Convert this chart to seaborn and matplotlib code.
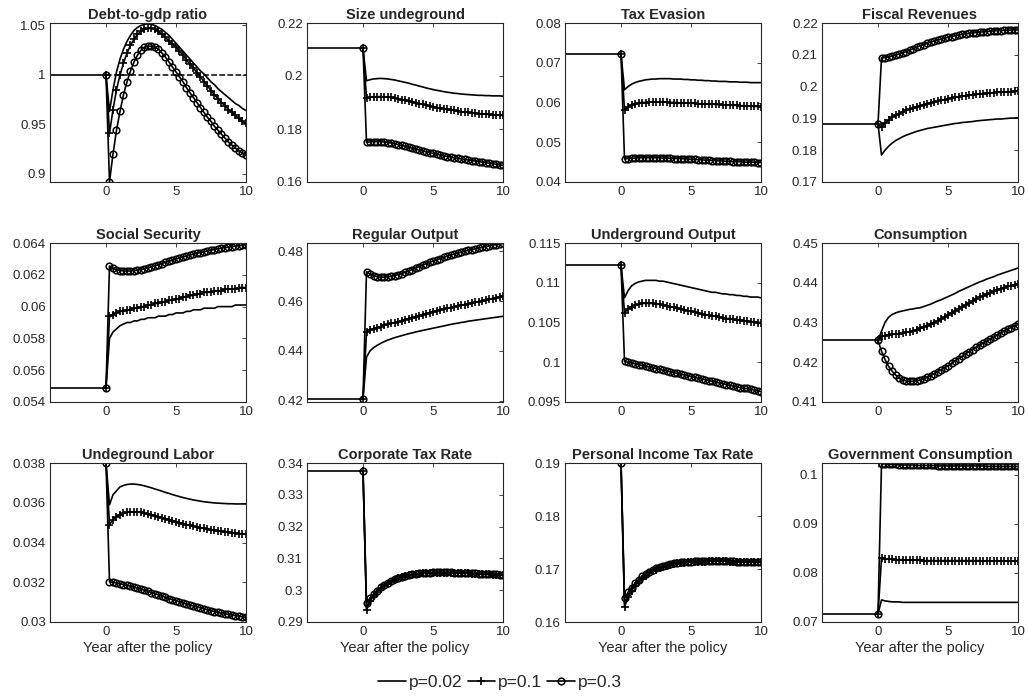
import numpy as np
import matplotlib
matplotlib.use("Agg")
import matplotlib.pyplot as plt
import seaborn as sns
from matplotlib.ticker import FuncFormatter
from matplotlib.lines import Line2D

sns.set_style("white")
plt.rcParams['font.family'] = ['Liberation Sans', 'DejaVu Sans']

# ---------------- data (quarterly, t = 0, 0.25, ..., 10) ----------------
titles = ["Debt-to-gdp ratio", "Size undeground", "Tax Evasion", "Fiscal Revenues",
          "Social Security", "Regular Output", "Underground Output", "Consumption",
          "Undeground Labor", "Corporate Tax Rate", "Personal Income Tax Rate",
          "Government Consumption"]
series_labels = ["p=0.02", "p=0.1", "p=0.3"]
x_label = "Year after the policy"
x_ticks = [0, 5, 10]
pre_start = -4

# steady states
ss_debt = 1.0
ss_size = 0.2105
ss_evasion = 0.0723
ss_revenue = 0.1883
ss_socsec = 0.0549
ss_regout = 0.4208
ss_undout = 0.1122
ss_cons = 0.4255
ss_undlab = 0.0380
ss_corp = 0.3375
ss_pit = 0.1900
ss_gov = 0.0716

debt_p002 = [0.963, 0.985, 1.003, 1.016, 1.026, 1.034, 1.040, 1.045, 1.048, 1.050, 1.051, 1.052,
             1.051, 1.050, 1.048, 1.046, 1.043, 1.040, 1.036, 1.032, 1.028, 1.024, 1.020, 1.016,
             1.012, 1.008, 1.004, 1.001, 0.997, 0.993, 0.990, 0.986, 0.983, 0.980, 0.977, 0.974,
             0.971, 0.969, 0.966, 0.964]
debt_p01 = [0.941, 0.965, 0.985, 1.000, 1.012, 1.022, 1.030, 1.036, 1.041, 1.044, 1.046, 1.047,
            1.047, 1.046, 1.044, 1.041, 1.038, 1.034, 1.031, 1.028, 1.024, 1.020, 1.015, 1.011,
            1.007, 1.002, 0.998, 0.993, 0.989, 0.984, 0.980, 0.976, 0.972, 0.969, 0.965, 0.962,
            0.959, 0.956, 0.953, 0.951]
debt_p03 = [0.892, 0.920, 0.944, 0.963, 0.980, 0.993, 1.004, 1.013, 1.020, 1.025, 1.028, 1.029,
            1.029, 1.028, 1.026, 1.022, 1.018, 1.013, 1.008, 1.003, 0.998, 0.993, 0.987, 0.982,
            0.977, 0.972, 0.967, 0.962, 0.957, 0.953, 0.948, 0.944, 0.940, 0.936, 0.932, 0.929,
            0.926, 0.923, 0.921, 0.919]

size_p002 = [0.1982, 0.1986, 0.1989, 0.1990, 0.1991, 0.1990, 0.1989, 0.1987, 0.1985, 0.1982,
             0.1979, 0.1976, 0.1973, 0.1969, 0.1966, 0.1962, 0.1959, 0.1955, 0.1952, 0.1949,
             0.1946, 0.1944, 0.1941, 0.1939, 0.1937, 0.1935, 0.1934, 0.1932, 0.1931, 0.1930,
             0.1929, 0.1928, 0.1927, 0.1927, 0.1926, 0.1926, 0.1925, 0.1925, 0.1925, 0.1924]
size_p01 = [0.1918, 0.1920, 0.1921, 0.1922, 0.1922, 0.1922, 0.1921, 0.1919, 0.1917, 0.1914,
            0.1911, 0.1908, 0.1905, 0.1902, 0.1899, 0.1896, 0.1893, 0.1890, 0.1887, 0.1884,
            0.1881, 0.1879, 0.1876, 0.1874, 0.1872, 0.1870, 0.1868, 0.1866, 0.1864, 0.1863,
            0.1861, 0.1860, 0.1858, 0.1857, 0.1856, 0.1855, 0.1854, 0.1853, 0.1852, 0.1851]
size_p03 = [0.1750, 0.1751, 0.1752, 0.1752, 0.1752, 0.1751, 0.1749, 0.1747, 0.1744, 0.1741,
            0.1738, 0.1735, 0.1731, 0.1728, 0.1724, 0.1721, 0.1717, 0.1714, 0.1711, 0.1708,
            0.1705, 0.1702, 0.1699, 0.1696, 0.1694, 0.1691, 0.1689, 0.1687, 0.1685, 0.1683,
            0.1681, 0.1679, 0.1677, 0.1675, 0.1673, 0.1671, 0.1669, 0.1667, 0.1665, 0.1663]

evasion_p002 = [0.0632, 0.0640, 0.0646, 0.0650, 0.0653, 0.0655, 0.0657, 0.0658, 0.0659, 0.0659,
                0.0660, 0.0660, 0.0660, 0.0660, 0.0659, 0.0659, 0.0659, 0.0658, 0.0658, 0.0657,
                0.0657, 0.0656, 0.0656, 0.0655, 0.0655, 0.0654, 0.0654, 0.0653, 0.0653, 0.0653,
                0.0652, 0.0652, 0.0652, 0.0651, 0.0651, 0.0651, 0.0650, 0.0650, 0.0650, 0.0650]
evasion_p01 = [0.0581, 0.0589, 0.0594, 0.0597, 0.0599, 0.0600, 0.0600, 0.0601, 0.0601, 0.0601,
               0.0601, 0.0601, 0.0601, 0.0600, 0.0600, 0.0600, 0.0599, 0.0599, 0.0599, 0.0598,
               0.0598, 0.0597, 0.0597, 0.0596, 0.0596, 0.0596, 0.0595, 0.0595, 0.0594, 0.0594,
               0.0594, 0.0593, 0.0593, 0.0592, 0.0592, 0.0591, 0.0591, 0.0590, 0.0590, 0.0589]
evasion_p03 = [0.0458, 0.0459, 0.0460, 0.0460, 0.0461, 0.0461, 0.0461, 0.0461, 0.0461, 0.0461,
               0.0461, 0.0460, 0.0460, 0.0460, 0.0459, 0.0459, 0.0459, 0.0458, 0.0458, 0.0457,
               0.0457, 0.0456, 0.0456, 0.0455, 0.0455, 0.0454, 0.0454, 0.0453, 0.0453, 0.0452,
               0.0452, 0.0451, 0.0451, 0.0451, 0.0450, 0.0450, 0.0450, 0.0450, 0.0449, 0.0449]

revenue_p002 = [0.1785, 0.1800, 0.1812, 0.1822, 0.1830, 0.1836, 0.1842, 0.1847, 0.1851, 0.1855,
                0.1859, 0.1862, 0.1865, 0.1868, 0.1870, 0.1872, 0.1874, 0.1876, 0.1878, 0.1880,
                0.1882, 0.1884, 0.1885, 0.1887, 0.1888, 0.1889, 0.1890, 0.1892, 0.1893, 0.1894,
                0.1895, 0.1896, 0.1897, 0.1898, 0.1898, 0.1899, 0.1900, 0.1901, 0.1901, 0.1902]
revenue_p01 = [0.1872, 0.1885, 0.1895, 0.1903, 0.1910, 0.1915, 0.1920, 0.1925, 0.1929, 0.1933,
               0.1937, 0.1940, 0.1943, 0.1946, 0.1949, 0.1952, 0.1954, 0.1957, 0.1959, 0.1962,
               0.1964, 0.1966, 0.1968, 0.1970, 0.1971, 0.1973, 0.1974, 0.1976, 0.1977, 0.1978,
               0.1979, 0.1980, 0.1981, 0.1982, 0.1982, 0.1983, 0.1984, 0.1984, 0.1985, 0.1985]
revenue_p03 = [0.2090, 0.2091, 0.2093, 0.2096, 0.2099, 0.2102, 0.2106, 0.2110, 0.2115, 0.2119,
               0.2124, 0.2128, 0.2132, 0.2136, 0.2140, 0.2143, 0.2146, 0.2149, 0.2152, 0.2155,
               0.2157, 0.2160, 0.2162, 0.2164, 0.2166, 0.2167, 0.2169, 0.2170, 0.2171, 0.2172,
               0.2173, 0.2174, 0.2175, 0.2176, 0.2176, 0.2177, 0.2177, 0.2178, 0.2178, 0.2178]

socsec_p002 = [0.0580, 0.0584, 0.0586, 0.0588, 0.0589, 0.0590, 0.0590, 0.0591, 0.0591, 0.0592,
               0.0592, 0.0593, 0.0593, 0.0593, 0.0594, 0.0594, 0.0594, 0.0595, 0.0595, 0.0596,
               0.0596, 0.0596, 0.0597, 0.0597, 0.0598, 0.0598, 0.0598, 0.0599, 0.0599, 0.0599,
               0.0599, 0.0600, 0.0600, 0.0600, 0.0600, 0.0600, 0.0601, 0.0601, 0.0601, 0.0601]
socsec_p01 = [0.0594, 0.0595, 0.0596, 0.0597, 0.0597, 0.0598, 0.0598, 0.0599, 0.0599, 0.0600,
              0.0600, 0.0601, 0.0601, 0.0602, 0.0602, 0.0603, 0.0603, 0.0604, 0.0604, 0.0605,
              0.0605, 0.0606, 0.0606, 0.0607, 0.0607, 0.0608, 0.0608, 0.0609, 0.0609, 0.0609,
              0.0610, 0.0610, 0.0610, 0.0611, 0.0611, 0.0611, 0.0611, 0.0612, 0.0612, 0.0612]
socsec_p03 = [0.06255, 0.06240, 0.06232, 0.06227, 0.06224, 0.06223, 0.06224, 0.06226, 0.06229,
              0.06233, 0.06238, 0.06244, 0.06250, 0.06257, 0.06264, 0.06271, 0.06278, 0.06285,
              0.06292, 0.06299, 0.06306, 0.06312, 0.06318, 0.06324, 0.06330, 0.06335, 0.06340,
              0.06345, 0.06350, 0.06355, 0.06359, 0.06363, 0.06367, 0.06371, 0.06374, 0.06377,
              0.06380, 0.06383, 0.06386, 0.06389]

regout_p002 = [0.4375, 0.4400, 0.4413, 0.4422, 0.4430, 0.4437, 0.4443, 0.4448, 0.4453, 0.4457,
               0.4461, 0.4465, 0.4469, 0.4472, 0.4476, 0.4479, 0.4482, 0.4485, 0.4488, 0.4491,
               0.4494, 0.4497, 0.4500, 0.4503, 0.4506, 0.4509, 0.4511, 0.4514, 0.4516, 0.4519,
               0.4521, 0.4523, 0.4525, 0.4527, 0.4529, 0.4531, 0.4533, 0.4535, 0.4537, 0.4539]
regout_p01 = [0.4475, 0.4483, 0.4489, 0.4493, 0.4497, 0.4502, 0.4506, 0.4510, 0.4514, 0.4518,
              0.4522, 0.4526, 0.4530, 0.4534, 0.4538, 0.4542, 0.4546, 0.4550, 0.4554, 0.4558,
              0.4562, 0.4565, 0.4568, 0.4571, 0.4574, 0.4577, 0.4580, 0.4583, 0.4586, 0.4589,
              0.4592, 0.4595, 0.4598, 0.4601, 0.4604, 0.4607, 0.4610, 0.4613, 0.4616, 0.4620]
regout_p03 = [0.4718, 0.4708, 0.4702, 0.4698, 0.4696, 0.4696, 0.4697, 0.4699, 0.4702, 0.4706,
              0.4710, 0.4715, 0.4720, 0.4726, 0.4732, 0.4738, 0.4744, 0.4750, 0.4755, 0.4760,
              0.4765, 0.4770, 0.4775, 0.4780, 0.4784, 0.4788, 0.4792, 0.4796, 0.4800, 0.4803,
              0.4806, 0.4809, 0.4812, 0.4815, 0.4818, 0.4821, 0.4824, 0.4826, 0.4828, 0.4831]

undout_p002 = [0.1081, 0.1090, 0.1096, 0.1099, 0.1101, 0.1102, 0.1103, 0.1103, 0.1103, 0.1103,
               0.1102, 0.1102, 0.1101, 0.1100, 0.1099, 0.1098, 0.1097, 0.1096, 0.1095, 0.1094,
               0.1093, 0.1092, 0.1091, 0.1090, 0.1089, 0.1088, 0.1088, 0.1087, 0.1086, 0.1086,
               0.1085, 0.1085, 0.1084, 0.1084, 0.1083, 0.1083, 0.1082, 0.1082, 0.1082, 0.1081]
undout_p01 = [0.1062, 0.1067, 0.1070, 0.1072, 0.1073, 0.1074, 0.1074, 0.1074, 0.1074, 0.1073,
              0.1073, 0.1072, 0.1071, 0.1070, 0.1069, 0.1068, 0.1067, 0.1066, 0.1065, 0.1064,
              0.1063, 0.1062, 0.1061, 0.1060, 0.1059, 0.1058, 0.1058, 0.1057, 0.1056, 0.1055,
              0.1055, 0.1054, 0.1053, 0.1053, 0.1052, 0.1052, 0.1051, 0.1051, 0.1050, 0.1050]
undout_p03 = [0.1001, 0.1000, 0.0999, 0.0998, 0.0997, 0.0996, 0.0995, 0.0994, 0.0993, 0.0992,
              0.0991, 0.0990, 0.0989, 0.0988, 0.0987, 0.0986, 0.0985, 0.0984, 0.0983, 0.0982,
              0.0981, 0.0980, 0.0979, 0.0978, 0.0977, 0.0976, 0.0975, 0.0974, 0.0973, 0.0972,
              0.0971, 0.0970, 0.0969, 0.0968, 0.0967, 0.0967, 0.0966, 0.0965, 0.0964, 0.0963]

cons_p002 = [0.4278, 0.4300, 0.4313, 0.4320, 0.4324, 0.4327, 0.4329, 0.4331, 0.4333, 0.4334,
             0.4336, 0.4337, 0.4340, 0.4343, 0.4346, 0.4350, 0.4354, 0.4357, 0.4361, 0.4365,
             0.4369, 0.4373, 0.4378, 0.4382, 0.4386, 0.4390, 0.4394, 0.4398, 0.4402, 0.4405,
             0.4409, 0.4412, 0.4415, 0.4419, 0.4422, 0.4425, 0.4428, 0.4431, 0.4434, 0.4437]
cons_p01 = [0.4265, 0.4267, 0.4269, 0.4270, 0.4271, 0.4272, 0.4273, 0.4275, 0.4277, 0.4279,
            0.4282, 0.4285, 0.4288, 0.4292, 0.4296, 0.4300, 0.4304, 0.4309, 0.4314, 0.4319,
            0.4324, 0.4329, 0.4334, 0.4339, 0.4344, 0.4349, 0.4354, 0.4359, 0.4363, 0.4367,
            0.4371, 0.4375, 0.4379, 0.4382, 0.4385, 0.4388, 0.4391, 0.4393, 0.4395, 0.4397]
cons_p03 = [0.4228, 0.4207, 0.4190, 0.4178, 0.4168, 0.4161, 0.4156, 0.4153, 0.4152, 0.4152,
            0.4153, 0.4155, 0.4158, 0.4162, 0.4166, 0.4171, 0.4176, 0.4181, 0.4186, 0.4191,
            0.4197, 0.4203, 0.4209, 0.4215, 0.4221, 0.4227, 0.4232, 0.4238, 0.4243, 0.4248,
            0.4253, 0.4258, 0.4263, 0.4268, 0.4273, 0.4278, 0.4283, 0.4287, 0.4291, 0.4295]

undlab_p002 = [0.03590, 0.03640, 0.03660, 0.03680, 0.03687, 0.03692, 0.03694, 0.03694, 0.03692,
               0.03689, 0.03685, 0.03680, 0.03675, 0.03669, 0.03664, 0.03658, 0.03652, 0.03647,
               0.03641, 0.03636, 0.03631, 0.03626, 0.03622, 0.03618, 0.03614, 0.03611, 0.03608,
               0.03605, 0.03603, 0.03601, 0.03599, 0.03598, 0.03597, 0.03596, 0.03595, 0.03595,
               0.03594, 0.03594, 0.03594, 0.03594]
undlab_p01 = [0.03490, 0.03515, 0.03530, 0.03540, 0.03547, 0.03552, 0.03554, 0.03555, 0.03554,
              0.03551, 0.03548, 0.03544, 0.03540, 0.03535, 0.03530, 0.03525, 0.03520, 0.03515,
              0.03510, 0.03505, 0.03500, 0.03495, 0.03490, 0.03486, 0.03482, 0.03478, 0.03474,
              0.03471, 0.03468, 0.03465, 0.03462, 0.03459, 0.03456, 0.03454, 0.03451, 0.03449,
              0.03447, 0.03445, 0.03443, 0.03441]
undlab_p03 = [0.03203, 0.03199, 0.03196, 0.03192, 0.03188, 0.03184, 0.03180, 0.03175, 0.03170,
              0.03165, 0.03160, 0.03154, 0.03148, 0.03142, 0.03136, 0.03130, 0.03124, 0.03118,
              0.03112, 0.03106, 0.03101, 0.03095, 0.03090, 0.03085, 0.03080, 0.03075, 0.03071,
              0.03067, 0.03060, 0.03056, 0.03052, 0.03048, 0.03044, 0.03041, 0.03038, 0.03035,
              0.03032, 0.03029, 0.03026, 0.03023]

corp_p002 = [0.2945, 0.2968, 0.2984, 0.2997, 0.3007, 0.3015, 0.3022, 0.3028, 0.3034, 0.3038,
             0.3042, 0.3045, 0.3047, 0.3049, 0.3051, 0.3052, 0.3053, 0.3054, 0.3055, 0.3055,
             0.3056, 0.3056, 0.3056, 0.3056, 0.3055, 0.3055, 0.3055, 0.3054, 0.3054, 0.3053,
             0.3053, 0.3052, 0.3052, 0.3051, 0.3051, 0.3050, 0.3050, 0.3049, 0.3049, 0.3048]
corp_p01 = [0.2938, 0.2965, 0.2982, 0.2995, 0.3005, 0.3014, 0.3021, 0.3027, 0.3033, 0.3037,
            0.3041, 0.3044, 0.3047, 0.3049, 0.3051, 0.3052, 0.3053, 0.3054, 0.3055, 0.3055,
            0.3055, 0.3055, 0.3055, 0.3055, 0.3055, 0.3054, 0.3054, 0.3054, 0.3053, 0.3053,
            0.3052, 0.3052, 0.3051, 0.3051, 0.3050, 0.3050, 0.3049, 0.3049, 0.3048, 0.3048]
corp_p03 = [0.2960, 0.2975, 0.2988, 0.2999, 0.3009, 0.3017, 0.3024, 0.3030, 0.3035, 0.3039,
            0.3043, 0.3046, 0.3048, 0.3050, 0.3052, 0.3053, 0.3054, 0.3055, 0.3055, 0.3056,
            0.3056, 0.3056, 0.3056, 0.3056, 0.3056, 0.3055, 0.3055, 0.3055, 0.3054, 0.3054,
            0.3053, 0.3053, 0.3052, 0.3052, 0.3051, 0.3051, 0.3050, 0.3050, 0.3049, 0.3049]

pit_p002 = [0.1635, 0.1650, 0.1661, 0.1670, 0.1677, 0.1683, 0.1688, 0.1693, 0.1697, 0.1700,
            0.1703, 0.1705, 0.1707, 0.1709, 0.1710, 0.1711, 0.1712, 0.1713, 0.1713, 0.1714,
            0.1714, 0.1714, 0.1715, 0.1715, 0.1715, 0.1715, 0.1715, 0.1715, 0.1715, 0.1715,
            0.1715, 0.1714, 0.1714, 0.1714, 0.1714, 0.1714, 0.1714, 0.1714, 0.1714, 0.1713]
pit_p01 = [0.1628, 0.1647, 0.1659, 0.1668, 0.1676, 0.1682, 0.1687, 0.1692, 0.1696, 0.1699,
           0.1702, 0.1704, 0.1706, 0.1708, 0.1710, 0.1711, 0.1712, 0.1712, 0.1713, 0.1713,
           0.1714, 0.1714, 0.1714, 0.1714, 0.1715, 0.1715, 0.1715, 0.1715, 0.1715, 0.1715,
           0.1714, 0.1714, 0.1714, 0.1714, 0.1714, 0.1714, 0.1714, 0.1713, 0.1713, 0.1713]
pit_p03 = [0.1645, 0.1656, 0.1665, 0.1673, 0.1680, 0.1686, 0.1691, 0.1695, 0.1699, 0.1702,
           0.1704, 0.1706, 0.1708, 0.1710, 0.1711, 0.1712, 0.1713, 0.1713, 0.1714, 0.1714,
           0.1715, 0.1715, 0.1715, 0.1715, 0.1715, 0.1715, 0.1715, 0.1715, 0.1715, 0.1715,
           0.1715, 0.1715, 0.1714, 0.1714, 0.1714, 0.1714, 0.1714, 0.1714, 0.1714, 0.1714]

gov_p002 = [0.0745, 0.0743, 0.0742, 0.0741, 0.0741, 0.0741, 0.0740, 0.0740, 0.0740, 0.0740,
            0.0740, 0.0740, 0.0740, 0.0740, 0.0740, 0.0740, 0.0740, 0.0740, 0.0740, 0.0740,
            0.0740, 0.0740, 0.0740, 0.0740, 0.0740, 0.0740, 0.0740, 0.0740, 0.0740, 0.0740,
            0.0740, 0.0740, 0.0740, 0.0740, 0.0740, 0.0740, 0.0740, 0.0740, 0.0740, 0.0740]
gov_p01 = [0.0830, 0.0829, 0.0828, 0.0828, 0.0827, 0.0827, 0.0827, 0.0826, 0.0826, 0.0826,
           0.0826, 0.0826, 0.0825, 0.0825, 0.0825, 0.0825, 0.0825, 0.0825, 0.0825, 0.0825,
           0.0825, 0.0825, 0.0825, 0.0825, 0.0825, 0.0825, 0.0825, 0.0825, 0.0825, 0.0824,
           0.0824, 0.0824, 0.0824, 0.0824, 0.0824, 0.0824, 0.0824, 0.0824, 0.0824, 0.0824]
gov_p03 = [0.1022, 0.1022, 0.1021, 0.1021, 0.1021, 0.1020, 0.1020, 0.1020, 0.1020, 0.1020,
           0.1019, 0.1019, 0.1019, 0.1019, 0.1019, 0.1019, 0.1018, 0.1018, 0.1018, 0.1018,
           0.1018, 0.1018, 0.1018, 0.1018, 0.1018, 0.1018, 0.1018, 0.1018, 0.1018, 0.1018,
           0.1017, 0.1017, 0.1017, 0.1017, 0.1017, 0.1017, 0.1017, 0.1017, 0.1017, 0.1017]

steady = [ss_debt, ss_size, ss_evasion, ss_revenue, ss_socsec, ss_regout,
          ss_undout, ss_cons, ss_undlab, ss_corp, ss_pit, ss_gov]
paths = [
    (debt_p002, debt_p01, debt_p03),
    (size_p002, size_p01, size_p03),
    (evasion_p002, evasion_p01, evasion_p03),
    (revenue_p002, revenue_p01, revenue_p03),
    (socsec_p002, socsec_p01, socsec_p03),
    (regout_p002, regout_p01, regout_p03),
    (undout_p002, undout_p01, undout_p03),
    (cons_p002, cons_p01, cons_p03),
    (undlab_p002, undlab_p01, undlab_p03),
    (corp_p002, corp_p01, corp_p03),
    (pit_p002, pit_p01, pit_p03),
    (gov_p002, gov_p01, gov_p03),
]
y_ticks = [
    [0.9, 0.95, 1.0, 1.05],
    [0.16, 0.18, 0.20, 0.22],
    [0.04, 0.05, 0.06, 0.07, 0.08],
    [0.17, 0.18, 0.19, 0.20, 0.21, 0.22],
    [0.054, 0.056, 0.058, 0.060, 0.062, 0.064],
    [0.42, 0.44, 0.46, 0.48],
    [0.095, 0.100, 0.105, 0.110, 0.115],
    [0.41, 0.42, 0.43, 0.44, 0.45],
    [0.030, 0.032, 0.034, 0.036, 0.038],
    [0.29, 0.30, 0.31, 0.32, 0.33, 0.34],
    [0.16, 0.17, 0.18, 0.19],
    [0.07, 0.08, 0.09, 0.10],
]
y_lims = [
    (0.8917, 1.0525), (0.16, 0.22), (0.04, 0.08), (0.17, 0.22),
    (0.054, 0.064), (0.4195, 0.4833), (0.095, 0.115), (0.41, 0.45),
    (0.030, 0.038), (0.29, 0.34), (0.16, 0.19), (0.07, 0.1024),
]
debt_reference = 1.0

# ---------------- styling ----------------
W, H = 1028, 698
fig = plt.figure(figsize=(W / 100, H / 100), dpi=100)
col_left = [50, 307, 565, 822]
row_top = [23, 243, 463]
ax_w, ax_h = 196, 159
dark = (0.15, 0.15, 0.15)
lw = 1.2

styles = [
    dict(marker=None),
    dict(marker='+', markersize=5.5, markeredgewidth=1.2, markeredgecolor='black'),
    dict(marker='o', markersize=4.8, markeredgewidth=1.1, markerfacecolor='none',
         markeredgecolor='black'),
]

fmt = FuncFormatter(lambda v, p: f"{v:g}")

for i in range(12):
    r, c = divmod(i, 4)
    ax = fig.add_axes([col_left[c] / W, 1 - (row_top[r] + ax_h) / H, ax_w / W, ax_h / H])
    ss = steady[i]
    if i == 0:
        sns.lineplot(x=[0, 10], y=[debt_reference, debt_reference], ax=ax, color='black',
                     linestyle='--', linewidth=1.1)
    sns.lineplot(x=[pre_start, 0], y=[ss, ss], ax=ax, color='black', linewidth=lw)
    for k, path in enumerate(paths[i]):
        y = [ss] + list(path)
        t = 0.25 * np.arange(len(y))
        sns.lineplot(x=t, y=y, ax=ax, color='black', linewidth=lw, sort=False,
                     estimator=None, **styles[k])
    ax.set_xlim(pre_start, 10)
    ax.set_ylim(*y_lims[i])
    ax.set_xticks(x_ticks)
    ax.set_yticks(y_ticks[i])
    ax.yaxis.set_major_formatter(fmt)
    ax.xaxis.set_major_formatter(fmt)
    ax.tick_params(direction='in', length=3, width=0.6, color=dark, labelcolor=dark,
                   labelsize=9.5, top=True, right=True, pad=3)
    for s in ax.spines.values():
        s.set_visible(True)
        s.set_color(dark)
        s.set_linewidth(0.8)
    ax.set_title(titles[i], fontsize=10.5, fontweight='bold', pad=3)
    ax.set_ylabel("")
    ax.set_xlabel(x_label if r == 2 else "", fontsize=10.5, color=dark, labelpad=2)

handles = []
for k, lab in enumerate(series_labels):
    handles.append(Line2D([0], [0], color='black', linewidth=lw, label=lab, **styles[k]))
fig.legend(handles=handles, loc='center', bbox_to_anchor=(500 / W, 1 - 682 / H), ncol=3,
           frameon=False, fontsize=12.5, handlelength=1.6, handletextpad=0.15,
           columnspacing=0.3, borderpad=0.1)

fig.savefig("out.png", dpi=100)
